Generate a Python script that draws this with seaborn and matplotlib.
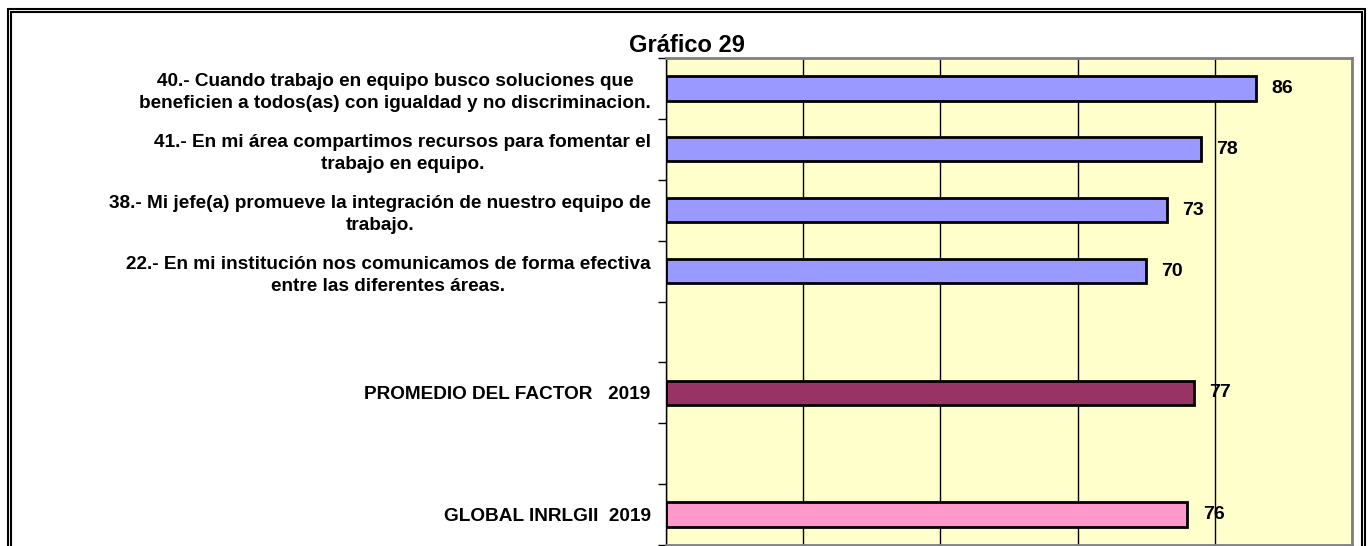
import matplotlib
matplotlib.use("Agg")
import matplotlib.pyplot as plt
import seaborn as sns
import pandas as pd
from matplotlib.patches import Rectangle

# Chart values
labels = [
    "40.- Cuando trabajo en equipo busco soluciones que\nbeneficien a todos(as) con igualdad y no discriminacion.",
    "41.- En mi área compartimos recursos para fomentar el\ntrabajo en equipo.",
    "38.- Mi jefe(a) promueve la integración de nuestro equipo de\ntrabajo.",
    "22.- En mi institución nos comunicamos de forma efectiva\nentre las diferentes áreas.",
    "PROMEDIO DEL FACTOR   2019",
    "GLOBAL INRLGII  2019",
]
values = [86, 78, 73, 70, 77, 76]
bar_colors = ["#9999FF", "#9999FF", "#9999FF", "#9999FF", "#993366", "#FF99CC"]
# slot order, blanks leave empty rows as in the original
order = labels[:4] + [" "] + [labels[4]] + ["  "] + [labels[5]]

df = pd.DataFrame({"pregunta": labels, "valor": values})

sns.set_style("white")
plt.rcParams["font.family"] = ["Liberation Sans", "DejaVu Sans"]
plt.rcParams.update({"text.color": "black", "ytick.color": "black",
                     "xtick.color": "black", "ytick.labelcolor": "black"})

fig = plt.figure(figsize=(13.72, 5.46), dpi=100)
ax = fig.add_axes([666 / 1372, 1 - 545 / 546, (1352 - 666) / 1372, (545 - 58) / 546])
ax.set_facecolor("#FFFFCC")

sns.barplot(data=df, x="valor", y="pregunta", hue="pregunta", order=order,
            palette=dict(zip(labels, bar_colors)), legend=False, width=0.4,
            saturation=1, edgecolor="black", linewidth=2, ax=ax)

ax.set_xlim(0, 100)
ax.set_ylim(len(order) - 0.5, -0.5)
ax.set_xticks([0, 20, 40, 60, 80, 100])
ax.xaxis.grid(True, color="black", linewidth=1)
ax.set_axisbelow(True)
ax.tick_params(axis="x", bottom=False, labelbottom=False)

# category labels without ticks, ticks at slot boundaries
ax.tick_params(axis="y", which="major", length=0, pad=11)
for t in ax.get_yticklabels():
    t.set_fontsize(13.7)
    t.set_fontweight("bold")
    t.set_color("black")
    t.set_multialignment("center")
    t.set_linespacing(1.35)
ax.set_yticks([i - 0.5 for i in range(len(order) + 1)], minor=True)
ax.tick_params(axis="y", which="minor", left=True, length=6, width=1, color="black", direction="out")
ax.set_xlabel("")
ax.set_ylabel("")

for c in ax.containers:
    ax.bar_label(c, fmt="%d", padding=11, fontsize=14, fontweight="bold", color="black")

ax.spines["left"].set_color("black")
ax.spines["left"].set_linewidth(1)
for s in ["top", "right", "bottom"]:
    ax.spines[s].set_color("#808080")
    ax.spines[s].set_linewidth(2)

fig.text(687 / 1372, 1 - 45 / 546, "Gráfico 29", ha="center", va="center",
         fontsize=17, fontweight="bold", color="black")

# double frame around the figure
for x0, y0, x1 in [(8, 9, 1365), (11, 12, 1362)]:
    fig.patches.append(Rectangle((x0 / 1372, -0.1), (x1 - x0) / 1372, 1.1 - y0 / 546,
                                 transform=fig.transFigure, fill=False,
                                 edgecolor="black", linewidth=1.5))

fig.savefig("out.png", dpi=100)
